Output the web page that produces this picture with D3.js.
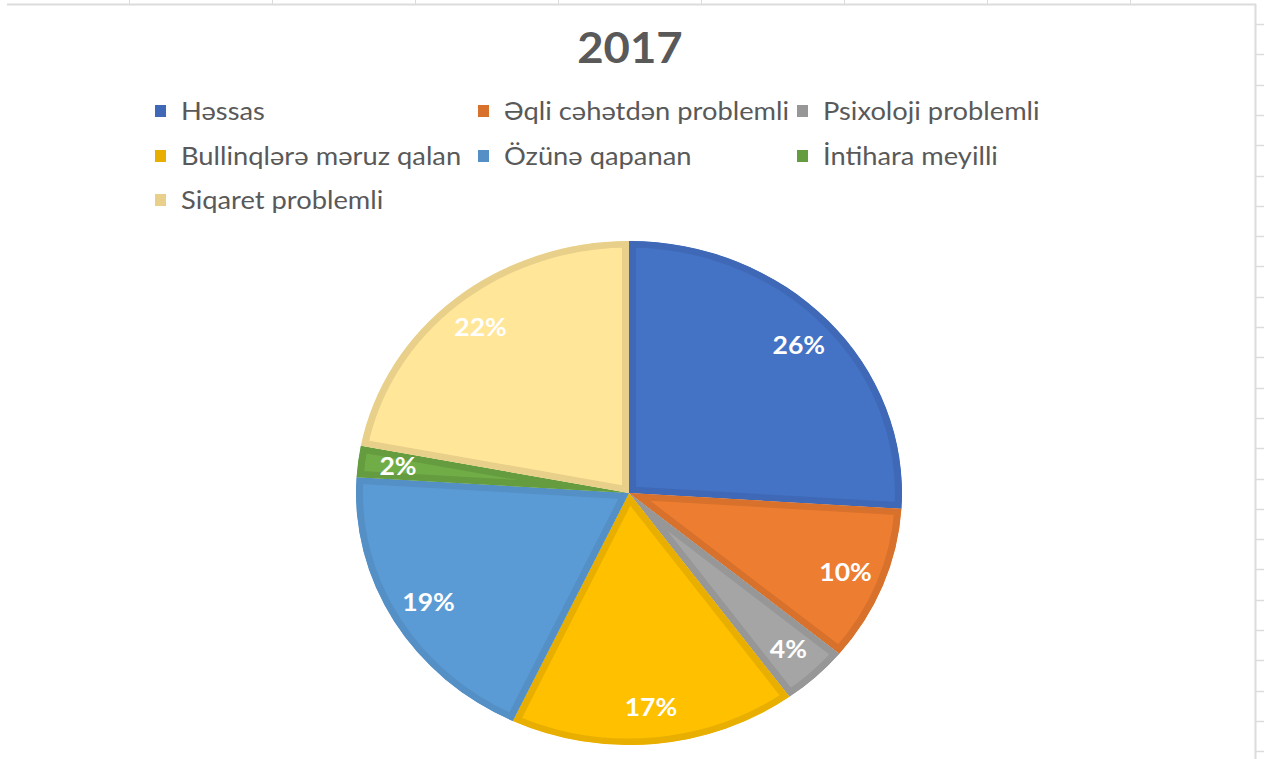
<!DOCTYPE html>
<html><head><meta charset="utf-8">
<script src="https://cdn.jsdelivr.net/npm/d3@7"></script>
<style>
html,body{margin:0;padding:0;background:#fff;}
svg{display:block;}
</style></head>
<body>
<svg id="chart" width="1264" height="759"></svg>
<script>
const title = "2017";
const categories = ["Həssas","Əqli cəhətdən problemli","Psixoloji problemli","Bullinqlərə məruz qalan","Özünə qapanan","İntihara meyilli","Siqaret problemli"];
const values = [26, 10, 4, 17, 19, 2, 22];
const fillColors = ["#4472C4","#ED7D31","#A5A5A5","#FFC000","#5B9BD5","#70AD47","#FFE699"];
const edgeColors = ["#3F69B6","#D7712C","#979797","#E8AF00","#5490C6","#649C3F","#E8CF8A"];

const W = 1264, H = 759;
const sx = 1.0833; // horizontal stretch of the screenshot
const svg = d3.select("#chart");

// spreadsheet frame lines
const frame = svg.append("g").attr("stroke","#dcdcdc").attr("fill","none");
frame.append("line").attr("x1",7).attr("x2",1256).attr("y1",4.5).attr("y2",4.5).attr("stroke-width",2);
frame.append("line").attr("x1",1255.5).attr("x2",1255.5).attr("y1",4).attr("y2",H).attr("stroke-width",2);
d3.range(24, H, 30.3).forEach(y => frame.append("line").attr("x1",1256).attr("x2",1264).attr("y1",Math.round(y)+0.5).attr("y2",Math.round(y)+0.5).attr("stroke-width",1.5));
d3.range(129, 1250, 143).forEach(x => frame.append("line").attr("x1",Math.round(x)+0.5).attr("x2",Math.round(x)+0.5).attr("y1",0).attr("y2",4).attr("stroke-width",1));

const g = svg.append("g").attr("transform",`scale(${sx},1)`);

g.append("text").attr("x", 630/sx).attr("y", 63)
  .attr("text-anchor","middle").attr("font-family","Lato, sans-serif").attr("font-weight","bold")
  .attr("font-size",42).attr("fill","#595959").text(title);

// legend
const colX = [155/sx, 478/sx, 797/sx];
const rowY = [111, 156, 200];
const leg = g.append("g");
categories.forEach((c,i) => {
  const x = colX[i%3], y = rowY[Math.floor(i/3)];
  leg.append("rect").attr("x",x).attr("y",y-6).attr("width",11/sx).attr("height",12).attr("fill",edgeColors[i]);
  leg.append("text").attr("x",x+26/sx).attr("y",y).attr("dy","0.35em")
    .attr("font-family","Lato, sans-serif").attr("font-size",25.2).attr("fill","#595959").text(c);
});

// pie
const cx = 629/sx, cy = 493, R = 252;
const total = d3.sum(values);
const pie = d3.pie().sort(null).value(d=>d)(values);
const arc = d3.arc().innerRadius(0).outerRadius(R);
const labelArc = d3.arc().innerRadius(215).outerRadius(215);
const pg = g.append("g").attr("transform",`translate(${cx},${cy})`);
const defs = svg.append("defs");
pie.forEach((d,i) => {
  defs.append("clipPath").attr("id","clip"+i).append("path").attr("d",arc(d));
  pg.append("path").attr("d",arc(d)).attr("fill",fillColors[i])
    .attr("stroke",edgeColors[i]).attr("stroke-width",13).attr("stroke-linejoin","miter")
    .attr("clip-path",`url(#clip${i})`);
});
const fmt = d3.format(".0%");
pie.forEach((d,i) => {
  const [lx,ly] = labelArc.centroid(d);
  pg.append("text").attr("x",lx).attr("y",ly).attr("dy","0.35em").attr("text-anchor","middle")
    .attr("font-family","Lato, sans-serif").attr("font-weight","bold").attr("font-size",24.5)
    .attr("fill","#fff").text(fmt(values[i]/total));
});
</script>
</body></html>
